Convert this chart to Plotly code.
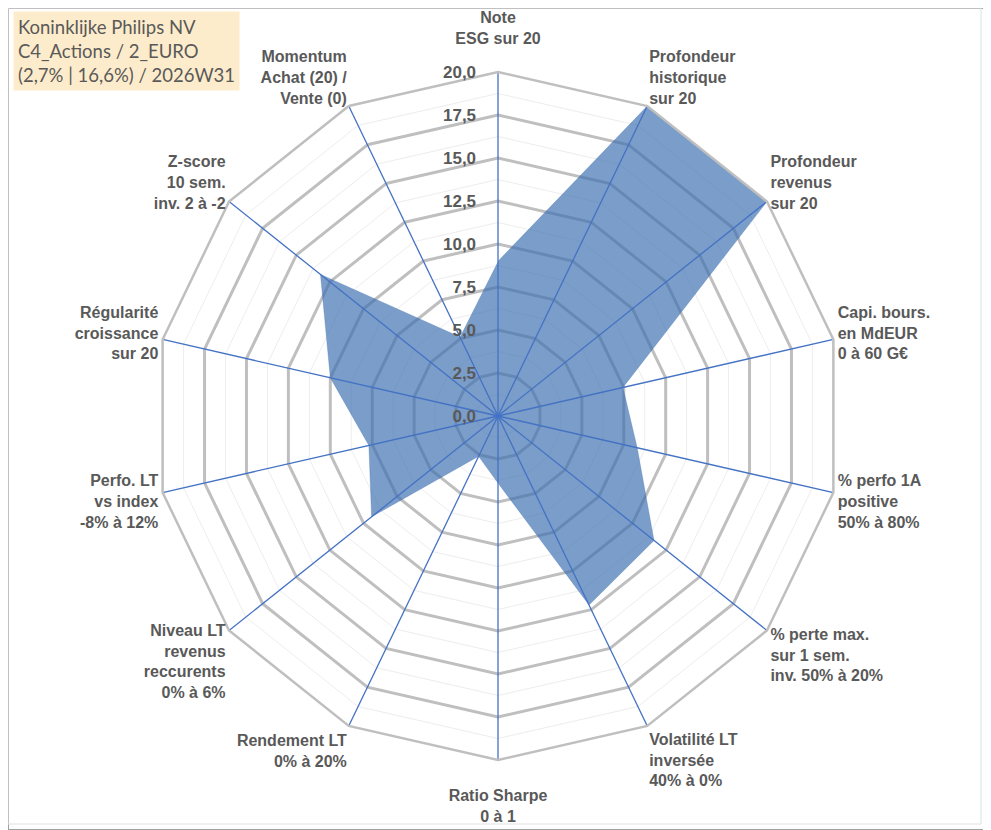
import plotly.graph_objects as go

# axes of the radar, clockwise from the top
# (top and bottom labels get a blank line so they sit further from the ring)
categories = [
    "Note<br>ESG sur 20<br>\u00a0",
    "Profondeur<br>historique<br>sur 20",
    "Profondeur<br>revenus<br>sur 20",
    "Capi. bours.<br>en MdEUR<br>0 à 60 G€",
    "% perfo 1A<br>positive<br>50% à 80%",
    "% perte max.<br>sur 1 sem.<br>inv. 50% à 20%",
    "Volatilité LT<br>inversée<br>40% à 0%",
    "\u00a0<br>Ratio Sharpe<br>0 à 1",
    "Rendement LT<br>0% à 20%",
    "Niveau LT<br>revenus<br>reccurents<br>0% à 6%",
    "Perfo. LT<br>vs index<br>-8% à 12%",
    "Régularité<br>croissance<br>sur 20",
    "Z-score<br>10 sem.<br>inv. 2 à -2",
    "Momentum<br>Achat (20) /<br>Vente (0)",
]
scores = [9.0, 20.0, 20.0, 7.45, 8.3, 11.6, 12.2, 3.9, 2.6, 9.4, 7.7, 10.0, 13.2, 5.1]

r_max = 20
major_ticks = [0, 2.5, 5, 7.5, 10, 12.5, 15, 17.5, 20]
# French decimal comma, padded so the labels stand off the top spoke
major_text = [f"{v:.1f}".replace(".", ",") + "\u00a0" * 4 for v in major_ticks]

info_lines = ["Koninklijke Philips NV", "C4_Actions / 2_EURO", "(2,7% | 16,6%) / 2026W31"]

label_color = "#595959"
grid_color = "#bfbfbf"
minor_color = "#ededed"
blue = "#4472c4"

W, H = 983, 822  # page body has an 8px margin

# polar domain, centred on the chart centre, radius ~344 px
dom_x = [146 / W, 834 / W]
dom_y = [70 / H, 758 / H]

fig = go.Figure()

# invisible trace so the bottom polar knows the categories (minor rings)
fig.add_trace(go.Scatterpolar(
    r=[0] * len(categories), theta=categories, mode="lines",
    line=dict(width=0), hoverinfo="skip", showlegend=False, subplot="polar",
))

fig.add_trace(go.Scatterpolar(
    r=scores, theta=categories, mode="lines", fill="toself",
    fillcolor="rgba(60,110,175,0.68)",
    line=dict(color="rgba(60,110,175,0.6)", width=0.5),
    name="Score", showlegend=False, subplot="polar2",
))

# spokes drawn above the filled area
spoke_theta, spoke_r = [], []
for c in categories:
    spoke_theta += [c, c, None]
    spoke_r += [0, r_max, None]
fig.add_trace(go.Scatterpolar(
    r=spoke_r, theta=spoke_theta, mode="lines",
    line=dict(color=blue, width=1.3), hoverinfo="skip",
    showlegend=False, subplot="polar2", connectgaps=False,
))

fig.update_layout(
    width=W, height=H,
    margin=dict(l=0, r=0, t=0, b=0),
    paper_bgcolor="white",
    showlegend=False,
    polar=dict(
        domain=dict(x=dom_x, y=dom_y),
        gridshape="linear",
        bgcolor="white",
        radialaxis=dict(range=[0, r_max], dtick=1.25, showticklabels=False,
                        ticks="", showline=False, gridcolor=minor_color, gridwidth=1),
        angularaxis=dict(rotation=90, direction="clockwise", showgrid=False,
                         showticklabels=False, ticks="", showline=False),
    ),
    polar2=dict(
        domain=dict(x=dom_x, y=dom_y),
        gridshape="linear",
        bgcolor="rgba(0,0,0,0)",
        radialaxis=dict(
            range=[0, r_max], tickvals=major_ticks, ticktext=major_text,
            angle=90, tickangle=90, side="counterclockwise", ticks="", showline=False,
            gridcolor=grid_color, gridwidth=2.5,
            tickfont=dict(family="Liberation Sans", size=17, color=label_color, weight="bold"),
        ),
        angularaxis=dict(
            rotation=90, direction="clockwise", showgrid=False, ticks="",
            showline=True, linecolor=grid_color, linewidth=2.5,
            tickfont=dict(family="Liberation Sans", size=16, color=label_color, weight="bold"),
        ),
    ),
    annotations=[dict(
        text="<br>".join(info_lines),
        xref="paper", yref="paper", x=5 / W, y=1 - 3 / H,
        xanchor="left", yanchor="top", align="left", showarrow=False,
        bgcolor="#fdeccb", borderpad=4,
        font=dict(family="Lato", size=18.5, color=label_color),
    )],
    shapes=[
        dict(type="rect", xref="paper", yref="paper", x0=0, y0=0, x1=1, y1=1,
             line=dict(color="#a0a0a0", width=2)),
        dict(type="rect", xref="paper", yref="paper", x0=0, y0=6 / H,
             x1=1 - 10 / W, y1=1, line=dict(color="#e0e0e0", width=1)),
    ],
)

fig.write_html("out.html")
